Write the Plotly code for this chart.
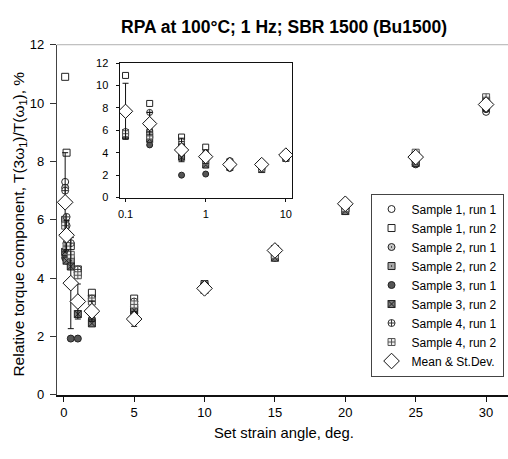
import plotly.graph_objects as go

W, H = 508, 459

# ---------------- data (main plot) ----------------
strain = [0.1, 0.2, 0.5, 1, 2, 5, 10, 15, 20, 25, 30]
s1r1 = [7.3, 5.2, 4.5, 4.1, 3.4, 3.2, 3.8, 4.9, 6.5, 8.0, 9.7]
s1r2 = [10.9, 8.3, 5.1, 4.3, 3.5, 3.3, 3.8, 5.0, 6.5, 8.2, 10.1]
s2r1 = [7.1, 5.8, 4.7, 4.2, 3.2, 3.1, 3.7, 4.8, 6.4, 8.1, 9.8]
s2r2 = [6.0, 5.5, 4.6, 4.2, 3.3, 3.0, 3.7, 4.8, 6.4, 8.2, 10.0]
s3r1 = [4.7, 4.6, 1.93, 1.93, 2.6, 2.8, 3.6, 4.7, 6.3, 7.9, 9.8]
s3r2 = [4.9, 4.6, 4.4, 2.77, 2.45, 2.9, 3.6, 4.7, 6.3, 7.95, 9.9]
s4r1 = [7.0, 6.1, 5.2, 4.3, 3.3, 3.2, 3.8, 4.9, 6.4, 8.2, 10.1]
s4r2 = [5.8, 5.1, 4.8, 4.1, 3.2, 3.1, 3.7, 4.8, 6.4, 8.3, 10.2]
mean = [6.6, 5.47, 3.83, 3.2, 2.87, 2.6, 3.65, 4.95, 6.55, 8.15, 9.95]
stdev = [1.7, 0.5, 1.56, 0.6, 0.35, 0.25, 0.12, 0.12, 0.12, 0.15, 0.2]

# ---------------- data (inset, log x) ----------------
strain_in = [0.1, 0.2, 0.5, 1, 2, 5, 10]
i_s1r1 = [5.8, 6.0, 4.8, 3.9, 3.1, 2.9, 3.8]
i_s1r2 = [10.9, 8.4, 5.4, 4.5, 3.2, 3.0, 3.9]
i_s2r1 = [5.7, 5.9, 4.6, 3.6, 3.0, 2.8, 3.7]
i_s2r2 = [5.8, 5.6, 4.5, 3.4, 2.9, 2.7, 3.6]
i_s3r1 = [5.6, 4.7, 2.0, 2.1, 2.6, 2.6, 3.5]
i_s3r2 = [5.5, 5.2, 3.6, 2.9, 2.7, 2.5, 3.5]
i_s4r1 = [5.9, 7.6, 5.0, 4.0, 3.3, 3.0, 3.8]
i_s4r2 = [5.7, 5.5, 4.2, 3.2, 2.8, 2.6, 3.6]
i_mean = [7.7, 6.6, 4.25, 3.65, 2.95, 2.95, 3.8]
i_std = [2.5, 1.0, 1.05, 0.6, 0.35, 0.2, 0.15]

names = ["Sample 1, run 1", "Sample 1, run 2", "Sample 2, run 1", "Sample 2, run 2",
         "Sample 3, run 1", "Sample 3, run 2", "Sample 4, run 1", "Sample 4, run 2"]
main_series = [s1r1, s1r2, s2r1, s2r2, s3r1, s3r2, s4r1, s4r2]
inset_series = [i_s1r1, i_s1r2, i_s2r1, i_s2r2, i_s3r1, i_s3r2, i_s4r1, i_s4r2]

styles = [
    dict(symbol="circle", color="white", line=dict(color="#222", width=1)),
    dict(symbol="square", color="white", line=dict(color="#222", width=1)),
    dict(symbol="circle-dot", color="#c8c8c8", line=dict(color="#222", width=1)),
    dict(symbol="square-dot", color="#a8a8a8", line=dict(color="#222", width=1)),
    dict(symbol="circle", color="#555555", line=dict(color="#222", width=1)),
    dict(symbol="square-x", color="#7a7a7a", line=dict(color="#222", width=1)),
    dict(symbol="circle-cross", color="white", line=dict(color="#333", width=1)),
    dict(symbol="square-cross", color="#eeeeee", line=dict(color="#555", width=1)),
]

fig = go.Figure()

for nm, ys, st in zip(names, main_series, styles):
    fig.add_trace(go.Scatter(x=strain, y=ys, mode="markers", name=nm,
                             marker=dict(size=7, **st), xaxis="x", yaxis="y"))
fig.add_trace(go.Scatter(x=strain, y=mean, mode="markers", name="Mean & St.Dev.",
                         marker=dict(symbol="diamond", size=12, color="white",
                                     line=dict(color="#111", width=1)),
                         error_y=dict(type="data", array=stdev, visible=True,
                                      color="#111", thickness=1, width=3),
                         xaxis="x", yaxis="y"))

for ys, st in zip(inset_series, styles):
    fig.add_trace(go.Scatter(x=strain_in, y=ys, mode="markers", showlegend=False,
                             marker=dict(size=6, **st), xaxis="x2", yaxis="y2"))
fig.add_trace(go.Scatter(x=strain_in, y=i_mean, mode="markers", showlegend=False,
                         marker=dict(symbol="diamond", size=11, color="white",
                                     line=dict(color="#111", width=1)),
                         error_y=dict(type="data", array=i_std, visible=True,
                                      color="#111", thickness=1, width=3),
                         xaxis="x2", yaxis="y2"))

def px_x(p):
    return p / W

def px_y(p):
    return (H - p) / H

FONT = "Liberation Sans, Arial, sans-serif"

fig.update_layout(
    width=W, height=H,
    margin=dict(l=0, r=0, t=0, b=0),
    paper_bgcolor="white", plot_bgcolor="white",
    font=dict(family=FONT, color="black"),
    showlegend=True,
    legend=dict(x=px_x(370), y=px_y(382), xanchor="left", yanchor="bottom",
                bgcolor="white", bordercolor="#444", borderwidth=1,
                font=dict(size=12, family=FONT, color="black"),
                tracegroupgap=0, itemwidth=30),
    xaxis=dict(domain=[px_x(55), 1], range=[-0.495, 31.557],
               tickvals=[0, 5, 10, 15, 20, 25, 30],
               ticks="outside", ticklen=5, tickwidth=1, tickcolor="#111",
               showline=True, linecolor="#111", linewidth=1.5,
               showgrid=False, zeroline=False,
               tickfont=dict(size=13, family=FONT, color="black")),
    yaxis=dict(domain=[px_y(401), px_y(39)], range=[0, 12],
               tickvals=[0, 2, 4, 6, 8, 10, 12],
               ticks="outside", ticklen=6, tickwidth=1, tickcolor="#333",
               showline=True, linecolor="#444", linewidth=1,
               showgrid=False, zeroline=False, ticklabelstandoff=3,
               tickfont=dict(size=13, family=FONT, color="black")),
    xaxis2=dict(domain=[px_x(118), px_x(291)], anchor="y2", type="log",
                range=[-1.075, 1.075],
                tickvals=[0.1, 1, 10], ticktext=["0.1", "1", "10"],
                ticks="outside", ticklen=3, tickwidth=1, tickcolor="#111",
                showline=True, linecolor="#111", linewidth=1, mirror=True,
                showgrid=False, zeroline=False, ticklabelstandoff=3,
                tickfont=dict(size=11, family=FONT, color="black")),
    yaxis2=dict(domain=[px_y(197), px_y(58)], anchor="x2", range=[0, 12],
                tickvals=[0, 2, 4, 6, 8, 10, 12],
                ticks="outside", ticklen=3, tickwidth=1, tickcolor="#111",
                showline=True, linecolor="#111", linewidth=1, mirror=True,
                showgrid=False, zeroline=False, ticklabelstandoff=5,
                tickfont=dict(size=11, family=FONT, color="black")),
    shapes=[
        dict(type="line", xref="paper", yref="paper",
             x0=px_x(55), x1=1, y0=px_y(39), y1=px_y(39),
             line=dict(color="#b0b0b0", width=1)),
        dict(type="rect", xref="paper", yref="paper", layer="below",
             x0=px_x(118), x1=px_x(291), y0=px_y(197), y1=px_y(58),
             fillcolor="white", line=dict(width=0)),
    ],
    annotations=[
        dict(text="<b>RPA at 100°C; 1 Hz; SBR 1500 (Bu1500)</b>",
             x=px_x(283), y=px_y(21), xref="paper", yref="paper",
             xanchor="center", yanchor="middle", showarrow=False,
             font=dict(size=17.5, family=FONT, color="black")),
        dict(text="Relative torque component, T(3ω<sub>1</sub>)/T(ω<sub>1</sub>), %",
             x=px_x(18), y=px_y(224), xref="paper", yref="paper",
             xanchor="center", yanchor="middle", textangle=-90, showarrow=False,
             font=dict(size=15.5, family=FONT, color="black")),
        dict(text="Set strain angle, deg.",
             x=px_x(283), y=px_y(440), xref="paper", yref="paper",
             xanchor="center", yanchor="middle", showarrow=False,
             font=dict(size=14.8, family=FONT, color="black")),
    ],
)

fig.write_html("out.html")
